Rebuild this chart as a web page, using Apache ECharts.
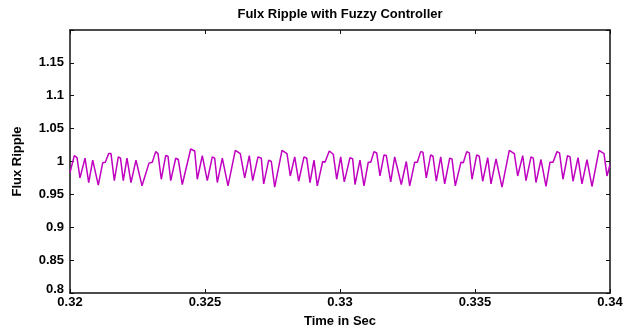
<!DOCTYPE html>
<html>
<head>
<meta charset="utf-8">
<script src="https://cdn.jsdelivr.net/npm/echarts@6/dist/echarts.min.js"></script>
<style>
  html, body { margin: 0; padding: 0; background: #fff; }
  #chart { width: 628px; height: 333px; }
</style>
</head>
<body>
<div id="chart"></div>
<script>
// time axis (s) and flux ripple
const time = [
  0.320000, 0.320159, 0.320259, 0.320370, 0.320556, 0.320693, 0.320841, 0.321048, 0.321211, 0.321307,
  0.321433, 0.321519, 0.321641, 0.321789, 0.321870, 0.321974, 0.322111, 0.322259, 0.322444, 0.322667,
  0.322926, 0.323048, 0.323174, 0.323259, 0.323381, 0.323544, 0.323630, 0.323730, 0.323915, 0.324011,
  0.324159, 0.324470, 0.324619, 0.324715, 0.324900, 0.325085, 0.325270, 0.325359, 0.325456, 0.325641,
  0.325704, 0.325852, 0.326122, 0.326307, 0.326470, 0.326641, 0.326767, 0.326963, 0.327085, 0.327174,
  0.327359, 0.327456, 0.327581, 0.327852, 0.328037, 0.328159, 0.328322, 0.328470, 0.328667, 0.328767,
  0.328889, 0.329037, 0.329159, 0.329359, 0.329444, 0.329604, 0.329752, 0.329878, 0.330026, 0.330159,
  0.330370, 0.330470, 0.330556, 0.330741, 0.330889, 0.331048, 0.331137, 0.331259, 0.331359, 0.331481,
  0.331630, 0.331715, 0.331878, 0.332026, 0.332270, 0.332456, 0.332581, 0.332767, 0.332863, 0.332989,
  0.333074, 0.333196, 0.333359, 0.333444, 0.333567, 0.333730, 0.333878, 0.334063, 0.334148, 0.334270,
  0.334481, 0.334567, 0.334693, 0.334789, 0.334889, 0.335063, 0.335159, 0.335285, 0.335470, 0.335593,
  0.335778, 0.335841, 0.336000, 0.336270, 0.336456, 0.336581, 0.336767, 0.336889, 0.337074, 0.337159,
  0.337259, 0.337444, 0.337630, 0.337778, 0.337889, 0.338037, 0.338130, 0.338259, 0.338426, 0.338519,
  0.338630, 0.338815, 0.338963, 0.339148, 0.339333, 0.339593, 0.339778, 0.339889, 0.340000
];
const flux = [
  0.983, 1.009, 1.006, 0.975, 1.005, 0.968, 1.002, 0.964, 0.998, 0.999,
  1.012, 1.012, 0.971, 1.007, 1.005, 0.971, 1.005, 0.968, 1.002, 0.963,
  0.9975, 0.999, 1.015, 1.012, 0.973, 1.009, 1.008, 0.971, 1.005, 1.003,
  0.965, 1.019, 1.016, 0.973, 1.009, 0.971, 1.007, 1.005, 0.968, 1.005,
  1.003, 0.963, 1.017, 1.012, 0.975, 1.009, 0.971, 1.007, 1.005, 0.966,
  1.002, 1.000, 0.961, 1.017, 1.012, 0.978, 1.007, 0.970, 1.007, 1.005,
  0.968, 1.002, 0.963, 1.000, 0.999, 1.016, 1.011, 0.973, 1.007, 0.969,
  1.006, 1.004, 0.965, 1.002, 0.963, 0.999, 0.999, 1.015, 1.013, 0.978,
  1.010, 1.009, 0.969, 1.007, 0.965, 1.000, 0.963, 0.999, 0.999, 1.015,
  1.014, 0.975, 1.010, 1.008, 0.970, 1.007, 0.966, 1.005, 1.004, 0.963,
  0.999, 0.998, 1.015, 1.013, 0.973, 1.010, 1.008, 0.970, 1.006, 0.966,
  1.004, 1.001, 0.961, 1.017, 1.012, 0.978, 1.009, 0.971, 1.007, 1.005,
  0.968, 1.003, 0.962, 0.999, 0.999, 1.015, 1.013, 0.973, 1.009, 1.007,
  0.970, 1.006, 0.966, 1.003, 0.962, 1.017, 1.012, 0.978, 0.995
];

const xTicks = [0.32, 0.325, 0.33, 0.335, 0.34];
const yTicks = [0.8, 0.85, 0.9, 0.95, 1, 1.05, 1.1, 1.15];

const FONT = "Liberation Sans";
const chart = echarts.init(document.getElementById("chart"), null, { renderer: "canvas" });

const labelStyle = { color: "#000", fontFamily: FONT, fontWeight: "bold", fontSize: 13 };

// shared look for the box axes (ticks pointing inward like MATLAB)
const boxAxis = {
  axisLine: { show: true, lineStyle: { color: "#111", width: 1.5 } },
  axisTick: { show: true, inside: true, length: 4, lineStyle: { color: "#111" } },
  splitLine: { show: false },
};

chart.setOption({
  animation: false,
  backgroundColor: "#fff",
  title: {
    text: "Fulx Ripple with Fuzzy Controller",
    left: 335,
    top: 3,
    textAlign: "center",
    textStyle: { ...labelStyle, fontSize: 13 },
  },
  grid: { left: 70, right: 18, top: 30, bottom: 33, containLabel: false },
  xAxis: [
    {
      type: "value",
      min: 0.32,
      max: 0.34,
      interval: 0.005,
      name: "Time in Sec",
      nameLocation: "middle",
      nameGap: 22,
      nameTextStyle: { ...labelStyle, fontSize: 13 },
      axisLabel: {
        ...labelStyle,
        margin: 3,
        formatter: (v) => (xTicks.some((t) => Math.abs(t - v) < 1e-9) ? String(+v.toFixed(3)) : ""),
      },
      ...boxAxis,
    },
    {
      type: "value",
      position: "top",
      min: 0.32,
      max: 0.34,
      interval: 0.005,
      axisLabel: { show: false },
      ...boxAxis,
    },
  ],
  yAxis: [
    {
      type: "value",
      min: 0.8,
      max: 1.2,
      interval: 0.05,
      name: "Flux Ripple",
      nameLocation: "middle",
      nameGap: 46,
      nameTextStyle: { ...labelStyle, fontSize: 13 },
      axisLabel: {
        ...labelStyle,
        margin: 6,
        formatter: (v) => {
          const t = yTicks.find((y) => Math.abs(y - v) < 1e-9);
          if (t === undefined) return "";
          return t === 0.8 ? "{low|0.8}" : String(t);
        },
        rich: { low: { ...labelStyle, padding: [0, 0, 8, 0] } },
      },
      ...boxAxis,
    },
    {
      type: "value",
      position: "right",
      min: 0.8,
      max: 1.2,
      interval: 0.05,
      axisLabel: { show: false },
      ...boxAxis,
    },
  ],
  series: [
    {
      type: "line",
      data: time.map((t, i) => [t, flux[i]]),
      showSymbol: false,
      symbol: "none",
      lineStyle: { color: "#C000C0", width: 1.5 },
      clip: true,
    },
  ],
});
</script>
</body>
</html>
